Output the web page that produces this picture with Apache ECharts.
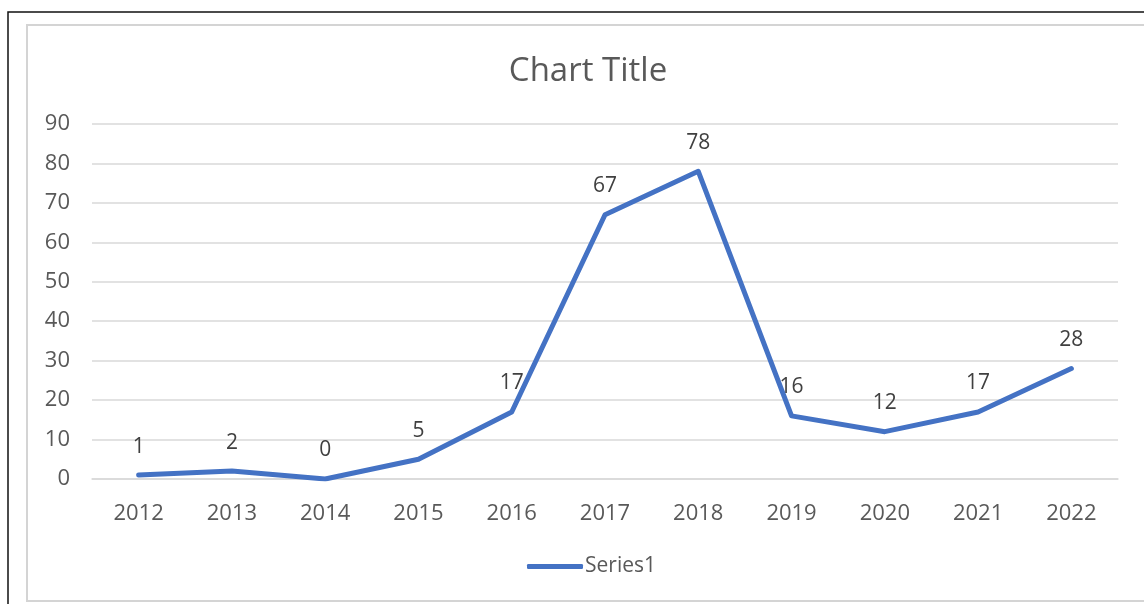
<!DOCTYPE html>
<html>
<head>
<meta charset="utf-8">
<script src="https://cdn.jsdelivr.net/npm/echarts@6/dist/echarts.min.js"></script>
<style>
html,body{margin:0;padding:0;background:#fff;}
#chart{width:1144px;height:604px;}
</style>
</head>
<body>
<div id="chart"></div>
<script>
var categories = ['2012','2013','2014','2015','2016','2017','2018','2019','2020','2021','2022'];
var series1 = [1, 2, 0, 5, 17, 67, 78, 16, 12, 17, 28];
var seriesName = 'Series1';
var titleText = 'Chart Title';

var FONT = 'Open Sans, Noto Sans, sans-serif';
var chart = echarts.init(document.getElementById('chart'), null, {renderer: 'canvas'});
chart.setOption({
  backgroundColor: '#ffffff',
  animation: false,
  graphic: [
    {type: 'rect', shape: {x: 8, y: 12, width: 1160, height: 620}, style: {fill: 'none', stroke: '#111', lineWidth: 1.5}, z: 0},
    {type: 'rect', shape: {x: 27, y: 25, width: 1140, height: 576}, style: {fill: 'none', stroke: '#d4d4d4', lineWidth: 2}, z: 0}
  ],
  title: {
    text: titleText,
    left: 583, top: 50, textAlign: 'center',
    textStyle: {fontFamily: FONT, fontSize: 33, fontWeight: 'normal', color: '#595959'}
  },
  legend: {
    data: [seriesName],
    left: 522, top: 551,
    icon: 'roundRect', itemWidth: 56, itemHeight: 5, itemGap: 10,
    textStyle: {fontFamily: FONT, fontSize: 21, color: '#595959', padding: [0,0,0,-3]}
  },
  grid: {left: 92, right: 26, top: 124, bottom: 125, containLabel: false},
  xAxis: {
    type: 'category', data: categories, boundaryGap: true,
    axisLine: {show: true, lineStyle: {color: '#d9d9d9', width: 1.5}},
    axisTick: {show: false},
    axisLabel: {fontFamily: FONT, fontSize: 22, color: '#595959', margin: 24}
  },
  yAxis: {
    type: 'value', min: 0, max: 90, interval: 10,
    axisLine: {show: false}, axisTick: {show: false},
    splitLine: {lineStyle: {color: '#d9d9d9', width: 1.5}},
    axisLabel: {fontFamily: FONT, fontSize: 22, color: '#595959', margin: 22}
  },
  series: [{
    name: seriesName, type: 'line', data: series1,
    symbol: 'circle', symbolSize: 0, showSymbol: true,
    lineStyle: {color: '#4472C4', width: 5, cap: 'round', join: 'round'},
    itemStyle: {color: '#4472C4'},
    label: {show: true, position: 'top', distance: 18, fontFamily: FONT, fontSize: 21, color: '#404040'}
  }]
});
</script>
</body>
</html>
